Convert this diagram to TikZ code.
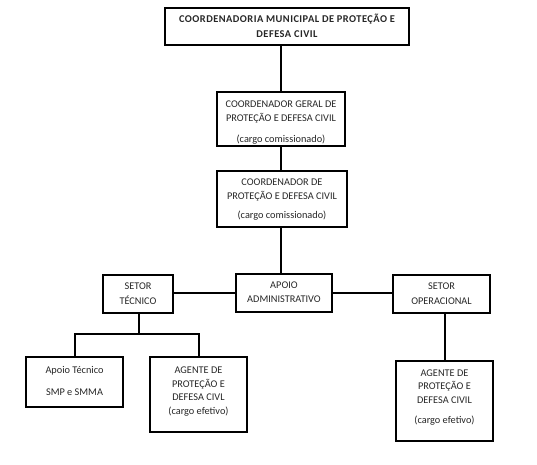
\documentclass[tikz,border=0pt]{standalone}
\usepackage{fontspec}
\setmainfont{Carlito}
\newfontfamily\topfont[LetterSpace=4.5]{Carlito}
\begin{document}
\begin{tikzpicture}[x=1pt,y=-1pt,
  box/.style={draw=black, line width=1.3pt, rectangle, inner sep=0pt},
  txt/.style={align=center, inner sep=0pt, font=\fontsize{10.3}{13.5}\selectfont, text=black!85},
  conn/.style={draw=black, line width=2pt}]
\useasboundingbox (0,0) rectangle (537,464);
% boxes
\node[box, minimum width=244pt, minimum height=37pt] (top) at (287,26.5) {};
\node[txt, font=\topfont\bfseries\fontsize{10.4}{15}\selectfont] (topt) at (287,26) {COORDENADORIA MUNICIPAL DE PROTEÇÃO E\\DEFESA CIVIL};
\node[box, minimum width=128pt, minimum height=54pt] (b2) at (281,119) {};
\node[txt] (b2t) at (281,123) {COORDENADOR GERAL DE\\PROTEÇÃO E DEFESA CIVIL\\[8pt](cargo comissionado)};
\node[box, minimum width=130pt, minimum height=56pt] (b3) at (282,199) {};
\node[txt] (b3t) at (282,200) {COORDENADOR DE\\PROTEÇÃO E DEFESA CIVIL\\[6pt](cargo comissionado)};
\node[box, minimum width=70pt, minimum height=38pt] (st) at (138,294) {};
\node[txt, font=\fontsize{10.3}{15}\selectfont] (stt) at (138,294) {SETOR\\TÉCNICO};
\node[box, minimum width=96pt, minimum height=38pt] (ap) at (284,293) {};
\node[txt, font=\fontsize{10.3}{14}\selectfont] (apt) at (284,292) {APOIO\\ADMINISTRATIVO};
\node[box, minimum width=97pt, minimum height=38pt] (so) at (441.5,294) {};
\node[txt, font=\fontsize{10.3}{15}\selectfont] (sot) at (441.5,294) {SETOR\\OPERACIONAL};
\node[box, minimum width=97pt, minimum height=50pt] (at) at (74.5,382) {};
\node[txt, font=\fontsize{10.3}{22}\selectfont] (att) at (74.5,380.5) {Apoio Técnico\\SMP e SMMA};
\node[box, minimum width=97pt, minimum height=75pt] (agl) at (198.5,394.5) {};
\node[txt] (aglt) at (198.5,391.5) {AGENTE DE\\PROTEÇÃO E\\DEFESA CIVL\\(cargo efetivo)};
\node[box, minimum width=97pt, minimum height=80pt] (agr) at (444.5,401) {};
\node[txt] (agrt) at (444.5,397.5) {AGENTE DE\\PROTEÇÃO E\\DEFESA CIVIL\\[7pt](cargo efetivo)};
% connectors
\coordinate (j) at (139,334);
\draw[conn] (top.south -| b2.north) -- (b2.north);
\draw[conn] (b2.south) -- (b2.south |- b3.north);
\draw[conn] (b3.south -| b2.south) -- (ap.north -| b2.south);
\draw[conn] (ap.west) -- (ap.west -| st.east);
\draw[conn] (ap.east) -- (ap.east -| so.west);
\draw[conn] (st.south -| j) -- (j);
\draw[conn] (at.north) |- (j) -| (agl.north);
\draw[conn] (agr.north |- so.south) -- (agr.north);
\end{tikzpicture}
\end{document}
